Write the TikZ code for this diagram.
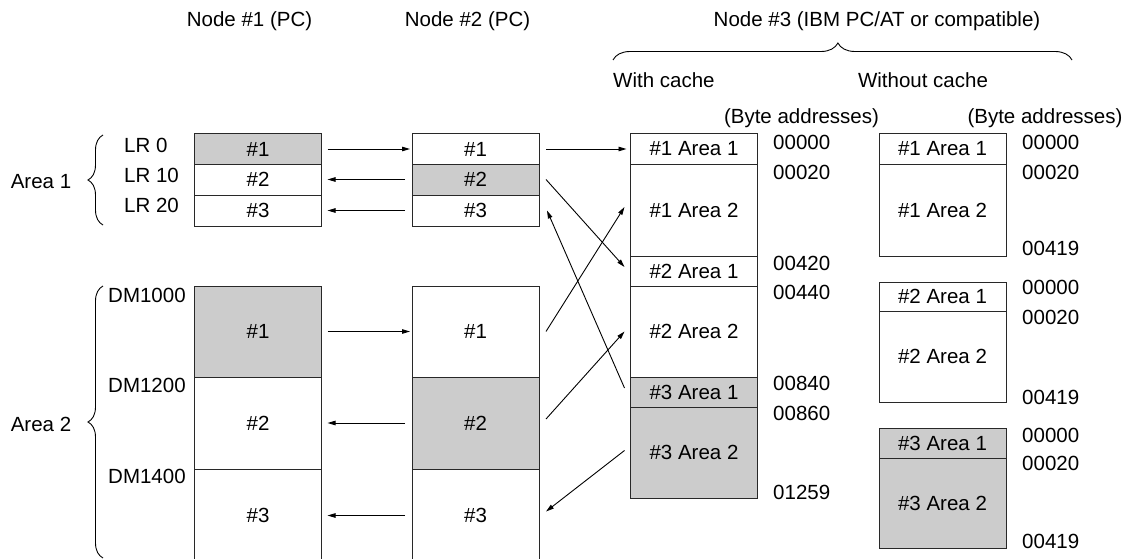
\documentclass[tikz,border=0pt]{standalone}
\usepackage{fontspec}
\setmainfont{Liberation Sans}
\usepackage{tikz}
\usetikzlibrary{arrows.meta, positioning, decorations.pathreplacing}
\definecolor{cellgray}{RGB}{204,204,204}
\definecolor{edgegray}{RGB}{40,40,40}

\begin{document}
\begin{tikzpicture}[x=1pt, y=-1pt, font=\fontsize{20.5}{24}\selectfont,
  cell/.style={draw=edgegray, line width=1pt, minimum width=127pt, inner sep=0pt, outer sep=0pt},
  hit/.style={fill=cellgray},
  lbl/.style={inner sep=0pt},
  xfer/.style={-{Triangle[length=8pt, width=4.5pt]}, line width=0.9pt},
  curly/.style={decorate, decoration={brace, amplitude=#1}, line width=0.9pt},
  curly/.default=15pt]
  \useasboundingbox (0,0) rectangle (1129,559);

  % headings
  \node[lbl] (t1) at (249.5,21) {Node \#1 (PC)};
  \node[lbl] (t2) at (467.5,21) {Node \#2 (PC)};
  \node[lbl] (t3) at (877,21) {Node \#3 (IBM PC/AT or compatible)};
  \draw[curly=17pt, decoration={aspect=0.49}] (613,60) -- (1072,60);
  \node[lbl, anchor=west] (wc) at (613,80) {With cache};
  \node[lbl] (woc) at (923,80) {Without cache};
  \node[lbl] (ba1) at (801.5,118) {(Byte addresses)};
  \node[lbl] (ba2) at (1045,118) {(Byte addresses)};

  % node #1, LR and DM words
  \node[cell, hit, minimum height=30pt] (n1lr1) at (258,149) {\#1};
  \node[cell, minimum height=31pt, below=0pt of n1lr1] (n1lr2) {\#2};
  \node[cell, minimum height=31pt, below=0pt of n1lr2] (n1lr3) {\#3};
  \node[cell, hit, minimum height=91pt] (n1dm1) at (258,331.5) {\#1};
  \node[cell, minimum height=92pt, below=0pt of n1dm1] (n1dm2) {\#2};
  \node[cell, minimum height=93pt, below=0pt of n1dm2] (n1dm3) {\#3};

  \node[lbl, anchor=west] (lr0) at (124,145) {LR 0};
  \node[lbl, anchor=west] (lr10) at (124,175) {LR 10};
  \node[lbl, anchor=west] (lr20) at (124,205) {LR 20};
  \node[lbl, anchor=west] (dm1) at (108,295) {DM1000};
  \node[lbl, anchor=west] (dm2) at (108,385) {DM1200};
  \node[lbl, anchor=west] (dm3) at (108,476) {DM1400};
  \draw[curly] (103,225) -- (103,135);
  \node[lbl] (ar1) at (41,182) {Area 1};
  \draw[curly] (103,558) -- (103,286);
  \node[lbl] (ar2) at (41,424) {Area 2};

  % node #2
  \node[cell, minimum height=30pt] (n2lr1) at (475.5,149) {\#1};
  \node[cell, hit, minimum height=31pt, below=0pt of n2lr1] (n2lr2) {\#2};
  \node[cell, minimum height=31pt, below=0pt of n2lr2] (n2lr3) {\#3};
  \node[cell, minimum height=91pt] (n2dm1) at (475.5,331.5) {\#1};
  \node[cell, hit, minimum height=92pt, below=0pt of n2dm1] (n2dm2) {\#2};
  \node[cell, minimum height=93pt, below=0pt of n2dm2] (n2dm3) {\#3};

  % node #3, with cache
  \node[cell, minimum height=30pt] (c11) at (694,149) {\#1 Area 1};
  \node[cell, minimum height=92pt, below=0pt of c11] (c12) {\#1 Area 2};
  \node[cell, minimum height=30pt, below=0pt of c12] (c21) {\#2 Area 1};
  \node[cell, minimum height=91pt, below=0pt of c21] (c22) {\#2 Area 2};
  \node[cell, hit, minimum height=30pt, below=0pt of c22] (c31) {\#3 Area 1};
  \node[cell, hit, minimum height=91pt, below=0pt of c31] (c32) {\#3 Area 2};
  \foreach \adr/\ypos in {00000/142, 00020/172, 00420/263, 00440/292, 00840/383, 00860/413, 01259/492}
    \node[lbl, anchor=west] (a\adr) at (773,\ypos) {\adr};

  % node #3, without cache
  \node[cell, minimum height=30pt] (w11) at (942.5,149) {\#1 Area 1};
  \node[cell, minimum height=92pt, below=0pt of w11] (w12) {\#1 Area 2};
  \node[cell, minimum height=29pt] (w21) at (942.5,296.5) {\#2 Area 1};
  \node[cell, minimum height=91pt, below=0pt of w21] (w22) {\#2 Area 2};
  \node[cell, hit, minimum height=30pt] (w31) at (942.5,443) {\#3 Area 1};
  \node[cell, hit, minimum height=90pt, below=0pt of w31] (w32) {\#3 Area 2};
  \foreach \adr/\ypos [count=\k] in {00000/142, 00020/172, 00419/248, 00000/287, 00020/317, 00419/397, 00000/435, 00020/463, 00419/541}
    \node[lbl, anchor=west] (b\k) at (1022,\ypos) {\adr};

  % transfers, area 1
  \draw[xfer] ([xshift=6pt]n1lr1.east) -- ([xshift=-2pt]n2lr1.west);
  \draw[xfer] ([xshift=-7pt]n2lr2.west) -- ([xshift=6pt]n1lr2.east);
  \draw[xfer] ([xshift=-7pt]n2lr3.west) -- ([xshift=6pt]n1lr3.east);
  \draw[xfer] ([xshift=7pt]n2lr1.east) -- ([xshift=-4pt]c11.west);
  \draw[xfer] ([xshift=7pt]n2lr2.east) -- ([xshift=-6pt, yshift=4pt]c21.west);
  \draw[xfer] ([xshift=-6pt, yshift=4pt]c31.west) -- ([xshift=8pt]n2lr3.east);
  % transfers, area 2
  \draw[xfer] ([xshift=6pt]n1dm1.east) -- ([xshift=-2pt]n2dm1.west);
  \draw[xfer] ([xshift=-7pt]n2dm2.west) -- ([xshift=6pt]n1dm2.east);
  \draw[xfer] ([xshift=-7pt]n2dm3.west) -- ([xshift=6pt]n1dm3.east);
  \draw[xfer] ([xshift=7pt]n2dm1.east) -- ([xshift=-6pt, yshift=3pt]c12.west);
  \draw[xfer] ([xshift=7pt, yshift=4pt]n2dm2.east) -- ([xshift=-6pt]c22.west);
  \draw[xfer] ([xshift=-6pt, yshift=2pt]c32.west) -- ([xshift=7pt, yshift=4pt]n2dm3.east);
\end{tikzpicture}
\end{document}
